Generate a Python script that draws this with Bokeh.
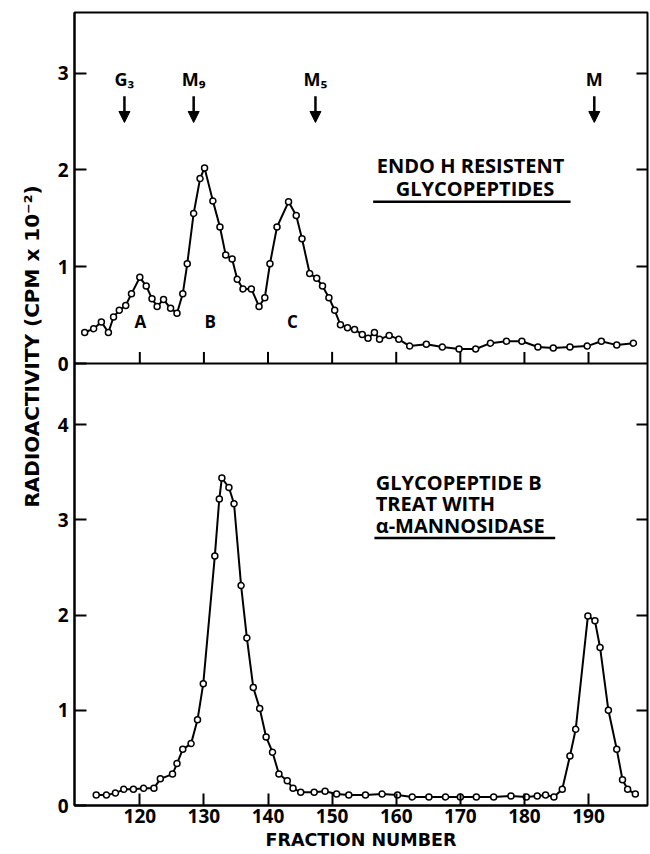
from bokeh.plotting import figure
from bokeh.models import (Range1d, LinearAxis, FixedTicker, Label, Arrow, NormalHead,
                          ColumnDataSource, CustomJSTickFormatter, Title)
from bokeh.embed import file_html
from bokeh.resources import INLINE
from bokeh.core.properties import value

# ---------------- data ----------------
top_fraction = [111.4, 112.8, 114.0, 115.1, 115.9, 116.8, 117.8, 118.7, 120.0, 121.0,
                121.9, 122.7, 123.7, 124.8, 125.8, 126.7, 127.4, 128.4, 129.4, 130.1,
                131.4, 132.5, 133.4, 134.4, 135.2, 136.1, 137.4, 138.6, 139.5, 140.3,
                141.4, 143.2, 144.4, 145.3, 146.5, 147.6, 148.5, 149.5, 150.4, 151.3,
                152.4, 153.5, 154.7, 155.6, 156.6, 157.4, 158.9, 160.4, 162.1, 164.7,
                167.2, 169.8, 172.4, 174.7, 177.2, 179.6, 182.1, 184.5, 187.1, 189.8,
                192.0, 194.4, 197.0]
top_cpm = [0.32, 0.36, 0.43, 0.32, 0.48, 0.55, 0.60, 0.72, 0.89, 0.80,
           0.67, 0.59, 0.66, 0.57, 0.52, 0.72, 1.03, 1.55, 1.91, 2.02,
           1.68, 1.41, 1.12, 1.08, 0.87, 0.77, 0.77, 0.59, 0.68, 1.03,
           1.41, 1.67, 1.53, 1.29, 0.93, 0.88, 0.80, 0.68, 0.55, 0.40,
           0.37, 0.35, 0.30, 0.26, 0.32, 0.25, 0.29, 0.25, 0.18, 0.20,
           0.17, 0.15, 0.15, 0.21, 0.23, 0.23, 0.17, 0.16, 0.17, 0.18,
           0.23, 0.19, 0.21]

bottom_fraction = [113.2, 114.8, 116.2, 117.5, 119.0, 120.6, 122.2, 123.2, 125.1, 125.8,
                   126.7, 128.0, 129.0, 129.9, 131.7, 132.4, 132.8, 133.9, 134.7, 135.8,
                   136.7, 137.7, 138.7, 139.7, 140.7, 141.7, 143.0, 143.9, 145.1, 147.2,
                   148.9, 150.7, 152.6, 155.2, 157.8, 160.2, 162.5, 165.1, 167.7, 170.0,
                   172.5, 175.2, 177.9, 180.3, 182.0, 183.3, 184.6, 185.9, 187.1, 188.0,
                   189.9, 191.0, 191.8, 193.1, 194.4, 195.3, 196.1, 197.3]
bottom_cpm = [0.11, 0.11, 0.13, 0.17, 0.17, 0.18, 0.18, 0.28, 0.33, 0.44,
              0.59, 0.65, 0.90, 1.28, 2.62, 3.22, 3.44, 3.34, 3.17, 2.31,
              1.76, 1.24, 1.02, 0.72, 0.56, 0.33, 0.26, 0.18, 0.14, 0.14,
              0.15, 0.12, 0.11, 0.11, 0.12, 0.11, 0.09, 0.09, 0.09, 0.09,
              0.09, 0.09, 0.10, 0.09, 0.10, 0.11, 0.09, 0.17, 0.52, 0.80,
              1.99, 1.94, 1.66, 1.00, 0.59, 0.27, 0.17, 0.12]

x_ticks = [120, 130, 140, 150, 160, 170, 180, 190]
top_y_ticks = [0, 1, 2, 3]
bottom_y_ticks = [0, 1, 2, 3, 4]

marker_names = ["G₃", "M₉", "M₅", "M"]
marker_fraction = [117.6, 128.4, 147.4, 190.9]

peak_names = ["A", "B", "C"]
peak_fraction = [120.1, 131.0, 143.8]

# ---------------- layout ----------------
X_RANGE = (109.81, 199.2)
BOT_RANGE = (0.0, 8.33)      # lower panel scale (shared frame)
TOP_RANGE = (-4.566, 3.626)  # upper panel scale (shared frame)

FONT = value("Open Sans")


def top_to_bottom(v):
    f = (v - TOP_RANGE[0]) / (TOP_RANGE[1] - TOP_RANGE[0])
    return BOT_RANGE[0] + f * (BOT_RANGE[1] - BOT_RANGE[0])


p = figure(width=650, height=854, x_range=Range1d(*X_RANGE), y_range=Range1d(*BOT_RANGE),
           output_backend="svg", toolbar_location=None,
           min_border_left=74, min_border_right=3, min_border_top=12, min_border_bottom=49)
p.extra_y_ranges = {"top": Range1d(*TOP_RANGE)}
p.xgrid.visible = False
p.ygrid.visible = False
p.outline_line_color = "black"
p.outline_line_width = 2
p.background_fill_color = "white"
p.border_fill_color = "white"

# bottom x axis
xa = p.xaxis[0]
xa.ticker = FixedTicker(ticks=x_ticks)
xa.major_tick_in = 12
xa.major_tick_out = 0
xa.minor_tick_line_color = None
xa.axis_line_width = 2
xa.major_tick_line_width = 2
xa.major_label_standoff = 3
xa.major_label_text_font = "Open Sans"
xa.major_label_text_font_style = "bold"
xa.major_label_text_font_size = "19px"
xa.major_label_text_color = "black"
xa.axis_label = "FRACTION NUMBER"
xa.axis_label_standoff = 4
xa.axis_label_text_font = "DejaVu Sans"
xa.axis_label_text_font_style = "bold"
xa.axis_label_text_font_size = "17.5px"
xa.axis_label_text_color = "black"

# left y axis carries both panels' ticks
left_ticks = list(bottom_y_ticks) + [top_to_bottom(v) for v in top_y_ticks]
left_names = [str(v) for v in bottom_y_ticks] + [str(v) for v in top_y_ticks]
ya = p.yaxis[0]
ya.ticker = FixedTicker(ticks=left_ticks)
ya.formatter = CustomJSTickFormatter(args=dict(tl=left_ticks, nm=left_names), code="""
    for (let i = 0; i < tl.length; i++) { if (Math.abs(tl[i] - tick) < 1e-6) return nm[i]; }
    return '';
""")
ya.major_tick_in = 12
ya.major_tick_out = 0
ya.minor_tick_line_color = None
ya.axis_line_width = 2
ya.major_tick_line_width = 2
ya.major_label_standoff = 6
ya.major_label_text_font = "Open Sans"
ya.major_label_text_font_style = "bold"
ya.major_label_text_font_size = "19px"
ya.major_label_text_color = "black"

# y title spanning both panels
p.add_layout(Title(text="RADIOACTIVITY  (CPM x 10⁻²)", align="right", offset=166,
                   vertical_align="middle", standoff=20, text_font="DejaVu Sans",
                   text_font_style="bold", text_font_size="20px", text_color="black"), "left")

# right axis: ticks only
right_ticks = [v for v in bottom_y_ticks if v > 0] + [top_to_bottom(v) for v in top_y_ticks if v > 0]
ra = LinearAxis(ticker=FixedTicker(ticks=right_ticks))
ra.formatter = CustomJSTickFormatter(code="return '';")
ra.major_label_standoff = 0
ra.major_tick_in = 11
ra.major_tick_out = 0
ra.minor_tick_line_color = None
ra.major_tick_line_width = 2
ra.axis_line_color = None
p.add_layout(ra, "right")

# separator between the panels (zero line of upper panel) with inward ticks
p.segment(x0=X_RANGE[0], y0=0, x1=X_RANGE[1], y1=0, y_range_name="top",
          line_color="black", line_width=2)
p.segment(x0=x_ticks, y0=[0] * len(x_ticks), x1=x_ticks, y1=[0.12] * len(x_ticks),
          y_range_name="top", line_color="black", line_width=2)

# ---------------- data marks ----------------
p.line(top_fraction, top_cpm, y_range_name="top", line_color="black", line_width=2)
p.scatter(top_fraction, top_cpm, y_range_name="top", marker="circle", size=6,
          fill_color="white", line_color="black", line_width=1.5)

p.line(bottom_fraction, bottom_cpm, line_color="black", line_width=2)
p.scatter(bottom_fraction, bottom_cpm, marker="circle", size=6,
          fill_color="white", line_color="black", line_width=1.5)

# marker arrows
arr_src = ColumnDataSource(dict(x=marker_fraction, y0=[2.76] * len(marker_fraction),
                                y1=[2.49] * len(marker_fraction)))
p.add_layout(Arrow(end=NormalHead(size=11, fill_color="black", line_color="black"),
                   x_start="x", y_start="y0", x_end="x", y_end="y1", source=arr_src,
                   y_range_name="top", line_width=2.5, line_color="black"))
p.text(x=marker_fraction, y=[2.82] * len(marker_fraction), text=marker_names,
       y_range_name="top", text_align="center", text_baseline="bottom",
       text_font=FONT, text_font_style="bold", text_font_size="18px", text_color="black")

p.text(x=peak_fraction, y=[0.43] * len(peak_fraction), text=peak_names,
       y_range_name="top", text_align="center", text_baseline="middle",
       text_font=FONT, text_font_style="bold", text_font_size="17px", text_color="black")

# annotations upper panel
for txt, xx, yy in [("ENDO H RESISTENT", 171.6, 2.05), ("GLYCOPEPTIDES", 172.3, 1.81)]:
    p.add_layout(Label(x=xx, y=yy, y_range_name="top", text=txt, text_align="center",
                       text_baseline="middle", text_font="Open Sans", text_font_style="bold",
                       text_font_size="20px", text_color="black"))
p.segment(x0=156.4, y0=1.67, x1=187.2, y1=1.67, y_range_name="top",
          line_color="black", line_width=2.5)

# annotations lower panel
for txt, yy in [("GLYCOPEPTIDE  B", 3.39), ("TREAT WITH", 3.17), ("α-MANNOSIDASE", 2.94)]:
    p.add_layout(Label(x=156.8, y=yy, text=txt, text_align="left", text_baseline="middle",
                       text_font="Open Sans", text_font_style="bold",
                       text_font_size="20px", text_color="black"))
p.segment(x0=156.6, y0=2.81, x1=184.8, y1=2.81, line_color="black", line_width=2.5)

open("out.html", "w").write(file_html(p, INLINE))
